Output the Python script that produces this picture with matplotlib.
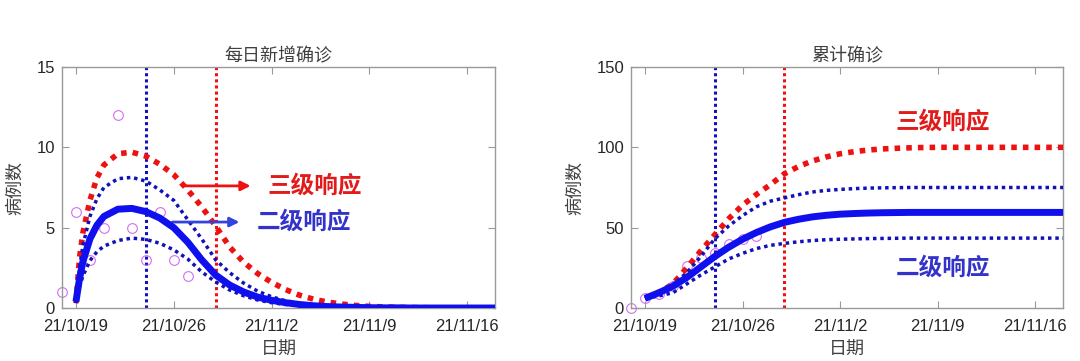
import numpy as np
import matplotlib
matplotlib.use("Agg")
import matplotlib.pyplot as plt

plt.rcParams['font.family'] = ['Liberation Sans', 'Noto Sans CJK SC', 'DejaVu Sans']
cjk = ['Noto Sans CJK SC', 'DejaVu Sans']

# x = days after 21/10/19
tick_days = [0, 7, 14, 21, 28]
tick_labels = ['21/10/19', '21/10/26', '21/11/2', '21/11/9', '21/11/16']
level2_day = 5      # 21/10/24
level3_day = 10     # 21/10/29

# observed cases
obs_days = [-1, 0, 1, 2, 3, 4, 5, 6, 7, 8]
obs_daily = [1, 6, 3, 5, 12, 5, 3, 6, 3, 2]
obs_cum = [0, 6, 9, 14, 26, 31, 34, 40, 43, 45]

# fitted daily new cases
fit_t = [0, 0.25, 0.5, 1, 1.5, 2, 3, 4, 5, 6, 7, 8, 9, 10, 11, 12, 13, 14, 15,
         16, 17, 18, 19, 20, 21, 22, 23, 24, 25, 26, 27, 28, 29, 30]
daily_lv3 = [0.3, 3.1, 4.7, 6.7, 8.1, 8.9, 9.6, 9.7, 9.45, 8.95, 8.3, 7.35, 6.3, 5.1,
             3.8, 2.85, 2.15, 1.6, 1.15, 0.8, 0.55, 0.37, 0.25, 0.16, 0.1, 0.07,
             0.04, 0.03, 0.02, 0.01, 0.01, 0.0, 0.0, 0.0]
daily_hi = [0.3, 2.5, 3.9, 5.7, 6.8, 7.5, 8.05, 8.13, 7.9, 7.35, 6.7, 5.5, 4.3, 3.0,
            2.2, 1.55, 1.05, 0.7, 0.45, 0.28, 0.17, 0.1, 0.06, 0.04, 0.02, 0.01,
            0.01, 0.0, 0.0, 0.0, 0.0, 0.0, 0.0, 0.0]
daily_mid = [0.4, 1.8, 2.9, 4.3, 5.15, 5.7, 6.15, 6.2, 6.0, 5.6, 5.0, 4.1, 3.0, 2.05,
             1.43, 1.0, 0.68, 0.48, 0.33, 0.22, 0.14, 0.09, 0.06, 0.04, 0.02, 0.01,
             0.01, 0.0, 0.0, 0.0, 0.0, 0.0, 0.0, 0.0]
daily_lo = [0.4, 1.3, 2.0, 2.95, 3.5, 3.85, 4.2, 4.35, 4.27, 4.03, 3.62, 3.05, 2.25,
            1.62, 1.12, 0.76, 0.5, 0.33, 0.22, 0.14, 0.09, 0.06, 0.04, 0.02, 0.01,
            0.01, 0.0, 0.0, 0.0, 0.0, 0.0, 0.0, 0.0, 0.0]

# fitted cumulative cases
cum_t = list(range(0, 31))
cum_lv3 = [6, 9.5, 15, 25, 35.5, 45.5, 55.5, 64, 70.7, 76.8, 83.5, 88, 91.5, 94, 96,
           97.3, 98.3, 99, 99.4, 99.7, 99.9, 100, 100, 100, 100, 100, 100, 100, 100,
           100, 100]
cum_hi = [6, 9.5, 14.5, 22, 32, 43, 51, 57.5, 63, 66.5, 68.5, 70.5, 72.2, 73.2, 73.8,
          74.3, 74.6, 74.8, 74.9, 75, 75, 75, 75, 75, 75, 75, 75, 75, 75, 75, 75]
cum_mid = [6, 9.5, 13.5, 19, 25.5, 32, 37.8, 42.8, 47, 50.5, 53.3, 55.2, 56.7, 57.7,
           58.4, 58.8, 59.1, 59.3, 59.4, 59.5, 59.5, 59.5, 59.5, 59.5, 59.5, 59.5,
           59.5, 59.5, 59.5, 59.5, 59.5]
cum_lo = [6, 7.5, 9.5, 15, 20.5, 25.5, 30.5, 34, 37, 39, 40.2, 41.2, 42, 42.5, 42.8,
          43.0, 43.2, 43.3, 43.4, 43.5, 43.5, 43.5, 43.5, 43.5, 43.5, 43.5, 43.5,
          43.5, 43.5, 43.5, 43.5]

RED = '#ee1111'
DBLUE = '#1111bb'
BLUE = '#1010ee'
TXT_RED = '#e31a1a'
TXT_BLUE = '#3333cc'
VIOLET = '#d070ee'
DOT = (0, (1, 1.1))


def style_axes(ax, ymax, yticks):
    ax.set_xlim(-1, 30)
    ax.set_ylim(0, ymax)
    ax.set_xticks(tick_days)
    ax.set_xticklabels(tick_labels)
    ax.set_yticks(yticks)
    ax.tick_params(direction='in', length=5, top=True, right=True,
                   labelsize=12, colors='#999999', labelcolor='#262626', pad=5)
    ax.tick_params(axis='x', pad=8)
    for s in ax.spines.values():
        s.set_color('#999999')
        s.set_linewidth(1.0)
    ax.set_xlabel('日期', family=cjk, fontsize=13, color='#404040', labelpad=5)
    ax.set_ylabel('病例数', family=cjk, fontsize=13, color='#404040', labelpad=9)


def vlines(ax):
    ax.axvline(level2_day, color=DBLUE, lw=2.2, ls=(0, (1, 1)), zorder=1)
    ax.axvline(level3_day, color=RED, lw=2.2, ls=(0, (1, 1)), zorder=1)


fig = plt.figure(figsize=(10.8, 3.61), dpi=100)
ax1 = fig.add_axes([0.0574, 0.1468, 0.401, 0.6676])
ax2 = fig.add_axes([0.5843, 0.1468, 0.400, 0.6676])

# ---- daily
vlines(ax1)
ax1.plot(obs_days, obs_daily, 'o', mfc='none', mec=VIOLET, mew=0.8, ms=7,
         clip_on=False, zorder=2)
ax1.plot(fit_t, daily_lv3, color=RED, lw=4, ls=DOT, zorder=3)
ax1.plot(fit_t, daily_hi, color=DBLUE, lw=2.5, ls=DOT, zorder=3)
ax1.plot(fit_t, daily_lo, color=DBLUE, lw=2.5, ls=DOT, zorder=3)
ax1.plot(fit_t, daily_mid, color=BLUE, lw=5, solid_capstyle='butt', zorder=4)
style_axes(ax1, 15, [0, 5, 10, 15])
ax1.set_title('每日新增确诊', family=cjk, fontsize=13, color='#404040', pad=4)
ax1.annotate('', xy=(12.7, 7.6), xytext=(7.6, 7.6),
             arrowprops=dict(arrowstyle='-|>', color=RED, lw=2, mutation_scale=14))
ax1.annotate('', xy=(11.9, 5.35), xytext=(6.7, 5.35),
             arrowprops=dict(arrowstyle='-|>', color='#3344dd', lw=2, mutation_scale=14))
ax1.text(13.7, 7.6, '三级响应', family=cjk, fontsize=17, weight='bold',
         color=TXT_RED, va='center', ha='left')
ax1.text(12.95, 5.35, '二级响应', family=cjk, fontsize=17, weight='bold',
         color=TXT_BLUE, va='center', ha='left')

# ---- cumulative
vlines(ax2)
ax2.plot(obs_days, obs_cum, 'o', mfc='none', mec=VIOLET, mew=0.8, ms=7,
         clip_on=False, zorder=2)
ax2.plot(cum_t, cum_lv3, color=RED, lw=4, ls=DOT, zorder=3)
ax2.plot(cum_t, cum_hi, color=DBLUE, lw=2.5, ls=DOT, zorder=3)
ax2.plot(cum_t, cum_lo, color=DBLUE, lw=2.5, ls=DOT, zorder=3)
ax2.plot(cum_t, cum_mid, color=BLUE, lw=5, solid_capstyle='butt', zorder=4)
style_axes(ax2, 150, [0, 50, 100, 150])
ax2.set_title('累计确诊', family=cjk, fontsize=13, color='#404040', pad=4)
ax2.text(21.4, 115.7, '三级响应', family=cjk, fontsize=17, weight='bold',
         color=TXT_RED, va='center', ha='center')
ax2.text(21.4, 24.9, '二级响应', family=cjk, fontsize=17, weight='bold',
         color=TXT_BLUE, va='center', ha='center')

fig.savefig('out.png', dpi=100)
